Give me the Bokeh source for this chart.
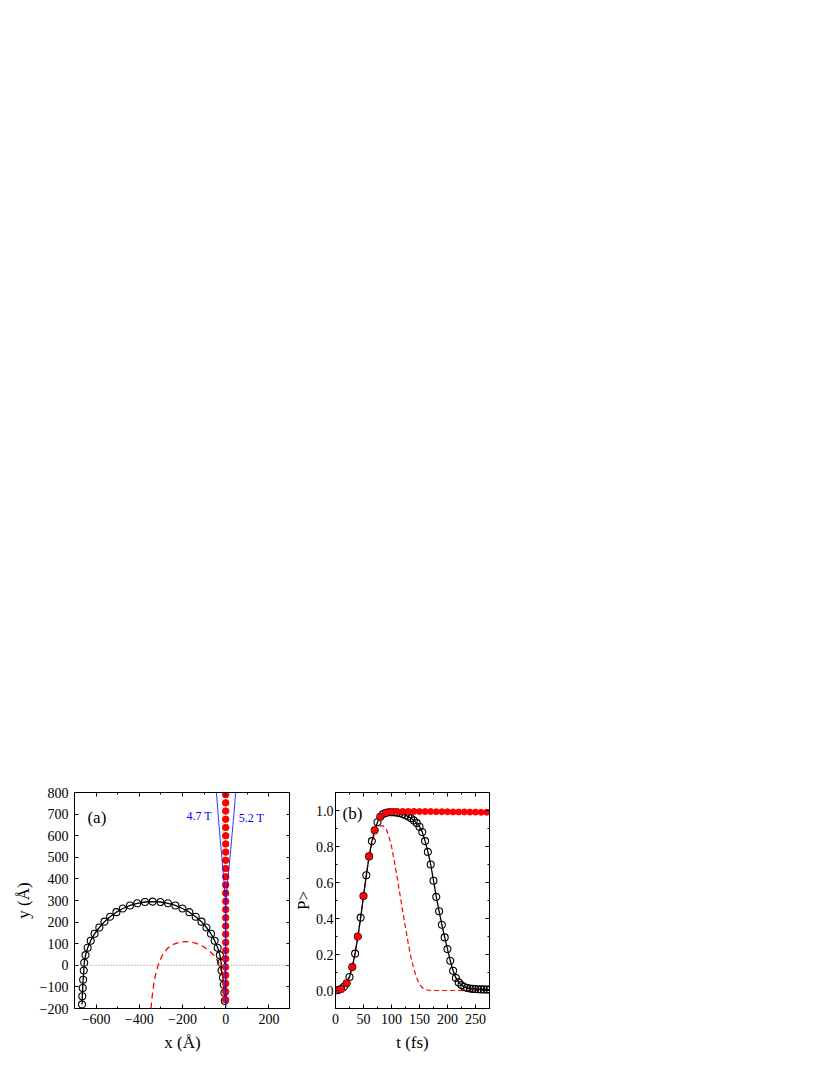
from bokeh.plotting import figure
from bokeh.models import SingleIntervalTicker, LinearAxis, Span, Label, PrintfTickFormatter
from bokeh.layouts import row
from bokeh.embed import file_html
from bokeh.resources import INLINE

FONT = "Liberation Serif"

# ---------------- Panel (a) data ----------------
traj_x = [-4, -6, -9, -13, -19, -21, -27, -37, -51, -68, -89, -112, -139, -168, -200, -233, -267, -302,
          -338, -374, -409, -443, -476, -506, -535, -561, -585, -607, -625, -639, -649, -655, -657,
          -660, -662, -664, -665]
traj_y = [-165, -127, -90, -57, -24, 12, 47, 81, 114, 146, 175, 202, 225, 246, 263, 277, 287, 293,
          295, 293, 287, 277, 263, 246, 225, 202, 175, 146, 114, 81, 47, 12, -24,
          -67, -105, -143, -181]
res_x = [0] * 26
res_y = [-160, -122, -84, -46, -8, 30, 68, 106, 144, 182, 220, 258, 296, 334, 372, 410, 448, 486,
         524, 562, 600, 638, 676, 714, 752, 790]
dash_x = [-346, -340, -332, -322, -308, -290, -268, -240, -210, -175, -140, -105, -75, -50, -32, -22, -16]
dash_y = [-200, -140, -80, -30, 15, 52, 80, 98, 108, 110, 103, 88, 66, 42, 10, -20, -45]
b47_x = [0, 0, -3, -9, -18, -27, -35, -43]
b47_y = [-200, 250, 320, 400, 500, 600, 700, 800]
b52_x = [0, 0, 3, 10, 20, 29, 38, 46]
b52_y = [-200, 250, 320, 400, 500, 600, 700, 800]

# ---------------- Panel (b) data ----------------
t_black = list(range(0, 280, 5))
p_black = [0.0, 0.003, 0.008, 0.02, 0.04, 0.075, 0.13, 0.205, 0.30, 0.405, 0.525, 0.64, 0.745, 0.83,
           0.89, 0.935, 0.965, 0.98, 0.987, 0.99, 0.99, 0.99, 0.988, 0.985, 0.98, 0.974, 0.966, 0.957,
           0.945, 0.93, 0.91, 0.88, 0.83, 0.77, 0.70, 0.61, 0.52, 0.44, 0.365, 0.295, 0.23, 0.165,
           0.11, 0.07, 0.045, 0.03, 0.02, 0.014, 0.011, 0.009, 0.008, 0.007, 0.006, 0.006, 0.005, 0.005]
t_red = list(range(0, 280, 10))
p_red = [0.0, 0.006, 0.04, 0.13, 0.30, 0.525, 0.745, 0.89, 0.965, 0.988, 0.994, 0.995, 0.995, 0.995,
         0.995, 0.994, 0.994, 0.994, 0.993, 0.993, 0.993, 0.992, 0.992, 0.992, 0.991, 0.991, 0.99, 0.99]
t_dash = [0, 10, 20, 30, 40, 50, 60, 70, 75, 80, 85, 90, 95, 100, 105, 110, 115, 120, 125, 130, 135,
          140, 145, 150, 155, 160, 170, 275]
p_dash = [0.0, 0.006, 0.04, 0.13, 0.30, 0.525, 0.745, 0.88, 0.905, 0.915, 0.915, 0.9, 0.86, 0.8, 0.72,
          0.63, 0.535, 0.44, 0.35, 0.26, 0.18, 0.12, 0.07, 0.035, 0.015, 0.005, 0.0, 0.0]


def style_axis(ax, ticker, show_labels=True):
    ax.ticker = ticker
    ax.axis_line_color = "black"
    ax.major_tick_line_color = "black"
    ax.minor_tick_line_color = "black"
    ax.major_tick_in = 4
    ax.major_tick_out = 0
    ax.minor_tick_in = 2
    ax.minor_tick_out = 0
    ax.major_label_text_font = FONT
    ax.axis_label_text_font = FONT
    ax.axis_label_text_font_style = "normal"
    ax.axis_label_text_color = "black"
    ax.axis_label_text_font_size = "17px"
    if show_labels:
        ax.major_label_text_font_size = "14px"
        ax.major_label_text_color = "black"
    else:
        ax.major_label_text_font_size = "0px"
        ax.major_label_text_color = None
        ax.major_label_standoff = 0
        ax.axis_label_standoff = 0


def make_fig(xr, yr, fw, left, right, xtick, ytick):
    p = figure(frame_width=fw, frame_height=216, x_range=xr, y_range=yr,
               output_backend="svg", toolbar_location=None,
               min_border_left=left, min_border_right=right,
               min_border_top=792, min_border_bottom=51)
    p.grid.visible = False
    p.outline_line_color = "black"
    p.background_fill_color = "white"
    p.border_fill_color = "white"
    bottom = p.below[0]
    left_ax = p.left[0]
    style_axis(bottom, xtick())
    style_axis(left_ax, ytick())
    top = LinearAxis()
    style_axis(top, xtick(), False)
    p.add_layout(top, "above")
    rt = LinearAxis()
    style_axis(rt, ytick(), False)
    p.add_layout(rt, "right")
    return p, bottom, left_ax


p1, xa1, ya1 = make_fig((-700, 300), (-200, 800), 216, 74, 0,
                        lambda: SingleIntervalTicker(interval=200, num_minor_ticks=2),
                        lambda: SingleIntervalTicker(interval=100, num_minor_ticks=0))
xa1.axis_label = "x (Å)"
ya1.axis_label = "y (Å)"
xa1.major_label_standoff = 5
ya1.major_label_standoff = 6
xa1.axis_label_standoff = 6
ya1.axis_label_standoff = 4

p1.add_layout(Span(location=0, dimension="width", line_color="#888888",
                   line_dash="1 2", line_width=1))
p1.line(dash_x, dash_y, line_color="red", line_dash="6 4", line_width=1.3)
p1.line(traj_x, traj_y, line_color="black", line_width=1.3)
p1.scatter(traj_x, traj_y, marker="circle", size=7, fill_color=None,
           line_color="black", line_width=1.1)
p1.scatter(res_x, res_y, marker="circle", size=6.5, fill_color="red", line_color="red")
p1.line(b47_x, b47_y, line_color="blue", line_width=0.8)
p1.line(b52_x, b52_y, line_color="blue", line_width=0.8)
p1.add_layout(Label(x=-640, y=685, text="(a)", text_font=FONT, text_font_size="17px",
                    text_baseline="middle", text_color="black"))
p1.add_layout(Label(x=-182, y=690, text="4.7 T", text_font=FONT, text_font_size="12px",
                    text_baseline="middle", text_color="blue"))
p1.add_layout(Label(x=60, y=680, text="5.2 T", text_font=FONT, text_font_size="12px",
                    text_baseline="middle", text_color="blue"))

p2, xa2, ya2 = make_fig((0, 275), (-0.1, 1.1), 154, 32, 10,
                        lambda: SingleIntervalTicker(interval=50, num_minor_ticks=2),
                        lambda: SingleIntervalTicker(interval=0.2, num_minor_ticks=2))
xa2.axis_label = "t (fs)"
ya2.axis_label = "P˃"
ya2.formatter = PrintfTickFormatter(format="%.1f")
xa2.major_label_standoff = 5
ya2.major_label_standoff = 2
xa2.axis_label_standoff = 6
ya2.axis_label_standoff = 0

p2.line(t_dash, p_dash, line_color="red", line_dash="5 3", line_width=1.2)
p2.line(t_black, p_black, line_color="black", line_width=1.3)
p2.scatter(t_black, p_black, marker="circle", size=7, fill_color=None,
           line_color="black", line_width=1.1)
p2.scatter(t_red, p_red, marker="circle", size=6, fill_color="red", line_color="red")
p2.add_layout(Label(x=12.5, y=0.985, text="(b)", text_font=FONT, text_font_size="17px",
                    text_baseline="middle", text_color="black"))

layout = row(p1, p2)
open("out.html", "w").write(file_html(layout, INLINE))
